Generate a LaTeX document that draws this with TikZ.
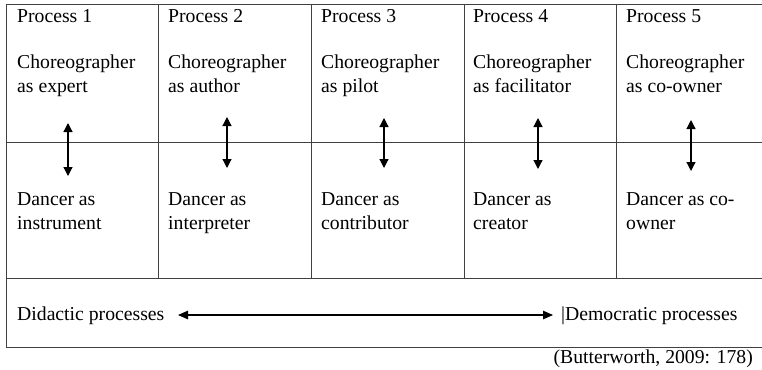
\documentclass[tikz,border=0pt]{standalone}
\usepackage{fontspec}
\setmainfont{Liberation Serif}
\usetikzlibrary{arrows.meta}
\begin{document}
\begin{tikzpicture}[x=1pt,y=-1pt,
  grid/.style={draw=black!75,line width=1pt},
  txt/.style={anchor=base west,inner sep=0pt,font=\fontsize{19.7}{24}\selectfont},
  vlink/.style={{Triangle[length=9pt,width=9pt]}-{Triangle[length=9pt,width=9pt]},line width=1.2pt},
  hlink/.style={{Triangle[length=10pt,width=8.5pt]}-{Triangle[length=10pt,width=8.5pt]},line width=1.1pt}]
\useasboundingbox (0,0) rectangle (762,369);
\newcommand{\twol}[2]{\begin{tabular}[t]{@{}l@{}}#1\\#2\end{tabular}}
% table grid
\draw[grid] (762,5) -- (6,5) -- (6,347) -- (762,347);
\draw[grid] (6,142) -- (762,142);
\draw[grid] (6,278) -- (762,278);
\foreach \x in {158,311,464,616} \draw[grid] (\x,5) -- (\x,278);
% headers
\node[txt] (p1) at (17,23) {Process 1};
\node[txt] (p2) at (168,23) {Process 2};
\node[txt] (p3) at (321,23) {Process 3};
\node[txt] (p4) at (473,23) {Process 4};
\node[txt] (p5) at (626,23) {Process 5};
% choreographer roles
\node[txt] (c1) at (17,68) {\twol{Choreographer}{as expert}};
\node[txt] (c2) at (168,68) {\twol{Choreographer}{as author}};
\node[txt] (c3) at (321,68) {\twol{Choreographer}{as pilot}};
\node[txt] (c4) at (473,68) {\twol{Choreographer}{as facilitator}};
\node[txt] (c5) at (626,68) {\twol{Choreographer}{as co-owner}};
% dancer roles
\node[txt] (d1) at (17,205) {\twol{Dancer as}{instrument}};
\node[txt] (d2) at (168,205) {\twol{Dancer as}{interpreter}};
\node[txt] (d3) at (321,205) {\twol{Dancer as}{contributor}};
\node[txt] (d4) at (473,205) {\twol{Dancer as}{creator}};
\node[txt] (d5) at (626,205) {\twol{Dancer as co-}{owner}};
% vertical arrows
\coordinate (a1t) at (68,123); \coordinate (a1b) at (68,176);
\coordinate (a2t) at (227,117); \coordinate (a2b) at (227,168);
\coordinate (a3t) at (384,118); \coordinate (a3b) at (384,168);
\coordinate (a4t) at (538,118); \coordinate (a4b) at (538,169);
\coordinate (a5t) at (691,120); \coordinate (a5b) at (691,171);
\foreach \i in {1,...,5} \draw[vlink] (a\i t) -- (a\i b);
% bottom row
\node[txt] (did) at (17,320) {Didactic processes};
\node[txt] (dem) at (561,320) {|Democratic processes};
\coordinate (hl) at (178,315);
\coordinate (hr) at (553,315);
\draw[hlink] (hl) -- (hr);
% source
\node[anchor=base east,inner sep=0pt,font=\fontsize{19.7}{24}\selectfont] (src) at (753,363) {(Butterworth, 2009: 178)};
\end{tikzpicture}
\end{document}
